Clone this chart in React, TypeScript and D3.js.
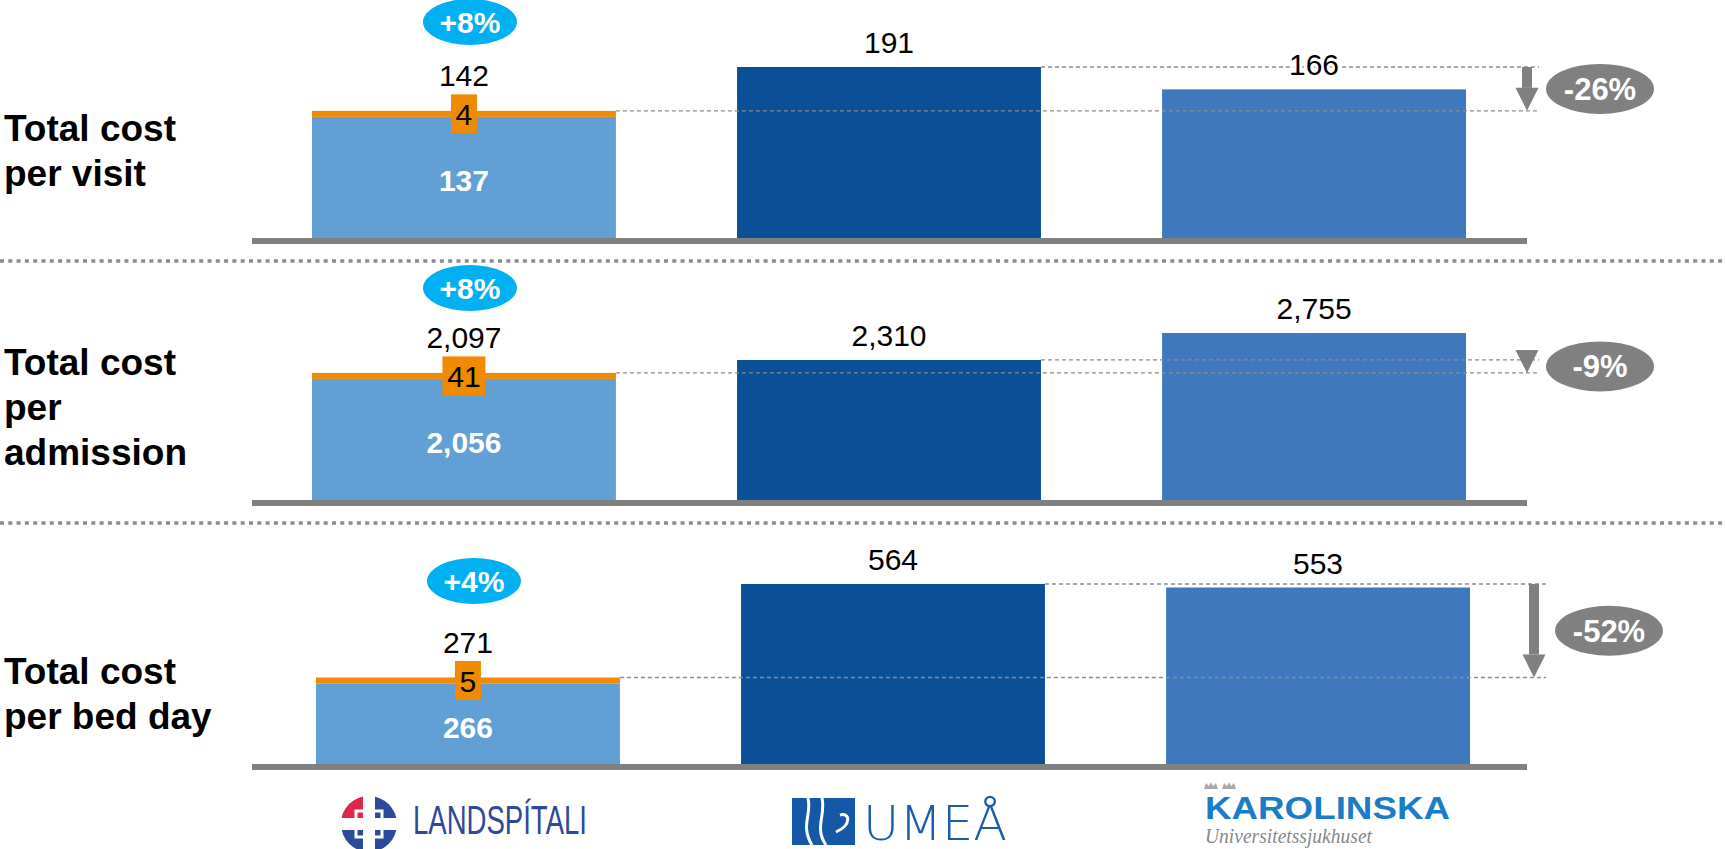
import React from "react";
import * as d3 from "d3";

// chart data
const hospitals = ["Landspítali", "Umeå", "Karolinska"];
const metricLines = [["Total cost", "per visit"], ["Total cost", "per", "admission"], ["Total cost", "per bed day"]];
const landspitaliBase = [137, 2056, 266];
const landspitaliExtra = [4, 41, 5];
const landspitaliTotal = [142, 2097, 271];
const umeaTotal = [191, 2310, 564];
const karolinskaTotal = [166, 2755, 553];
const increaseLabels = ["+8%", "+8%", "+4%"];
const gapLabels = ["-26%", "-9%", "-52%"];

const W = 1725, H = 849;
const FONT = "'Liberation Sans', Arial, sans-serif";
const colors = ["#629fd5", "#0b4f96", "#3f78bd"];
const ORANGE = "#ee8b00";
const GRAY = "#808080";
const CYAN = "#00b0f0";

// layout for each panel
const layout = [
  { base: 238, top: 67, badgeY: 22, arrowX: 1527, pillX: 1600, dx: 0, textY: 141 },
  { base: 500, top: 333, badgeY: 288, arrowX: 1527, pillX: 1600, dx: 0, textY: 375 },
  { base: 764, top: 584, badgeY: 581, arrowX: 1534, pillX: 1609, dx: 4, textY: 684 },
];
const separators = [261, 523];
const fmt = d3.format(",");

function Panel({ i }: { i: number }) {
  const L = layout[i];
  const totals = [landspitaliTotal[i], umeaTotal[i], karolinskaTotal[i]];
  const x = d3.scaleBand().domain(hospitals).range([312 + L.dx, 1466 + L.dx]).paddingInner(0.285);
  const y = d3.scaleLinear().domain([0, d3.max(totals) as number]).range([L.base, L.top]);
  const bw = x.bandwidth();
  const cx = (h: string) => (x(h) as number) + bw / 2;

  const lTop = y(landspitaliTotal[i]);
  const orangeH = Math.max(6, y(0) - y(landspitaliExtra[i]));
  const uTop = y(umeaTotal[i]);
  const lc = cx(hospitals[0]);
  const extraText = String(landspitaliExtra[i]);
  const boxW = extraText.length * 17 + 9;
  const lineEnd = L.arrowX + 12;
  const headH = 23;

  return (
    <g>
      {/* metric label */}
      <text x={4} y={L.textY} fontFamily={FONT} fontWeight="bold" fontSize={37} fill="#000">
        {metricLines[i].map((t, k) => (
          <tspan key={k} x={4} dy={k === 0 ? 0 : 45}>{t}</tspan>
        ))}
      </text>

      {/* bars */}
      <rect x={x(hospitals[0])} y={lTop + orangeH} width={bw} height={y(0) - lTop - orangeH} fill={colors[0]} />
      <rect x={x(hospitals[0])} y={lTop} width={bw} height={orangeH} fill={ORANGE} />
      {hospitals.slice(1).map((h, k) => (
        <rect key={h} x={x(h)} y={y(totals[k + 1])} width={bw} height={y(0) - y(totals[k + 1])} fill={colors[k + 1]} />
      ))}

      {/* baseline */}
      <rect x={252} y={L.base} width={1527 - 252} height={6} fill={GRAY} />

      {/* dashed guide lines */}
      <line x1={(x(hospitals[0]) as number) + bw} x2={lineEnd} y1={lTop} y2={lTop} stroke="#8c8c8c" strokeWidth={1.3} strokeDasharray="4 3" />
      <line x1={(x(hospitals[1]) as number) + bw} x2={lineEnd} y1={uTop} y2={uTop} stroke="#8c8c8c" strokeWidth={1.3} strokeDasharray="4 3" />

      {/* arrow */}
      {lTop - headH > uTop && (
        <rect x={L.arrowX - 5} y={uTop} width={10} height={lTop - headH - uTop} fill={GRAY} />
      )}
      <polygon
        points={`${L.arrowX - 11.5},${lTop - headH} ${L.arrowX + 11.5},${lTop - headH} ${L.arrowX},${lTop}`}
        fill={GRAY}
      />
      <ellipse cx={L.pillX} cy={(lTop + uTop) / 2} rx={54} ry={25} fill={GRAY} />
      <text x={L.pillX} y={(lTop + uTop) / 2 + 11} textAnchor="middle" fontFamily={FONT} fontWeight="bold" fontSize={31} fill="#fff">
        {gapLabels[i]}
      </text>

      {/* orange increment box */}
      <rect x={lc - boxW / 2} y={lTop + 3 - 19.5} width={boxW} height={39} fill={ORANGE} />
      <text x={lc} y={lTop + 14} textAnchor="middle" fontFamily={FONT} fontSize={30} fill="#000">{extraText}</text>

      {/* base value inside */}
      <text x={lc} y={(lTop + orangeH + y(0)) / 2 + 14} textAnchor="middle" fontFamily={FONT} fontWeight="bold" fontSize={30} fill="#fff">
        {fmt(landspitaliBase[i])}
      </text>

      {/* totals */}
      {hospitals.map((h, k) => (
        <text
          key={h}
          x={cx(h)}
          y={y(totals[k]) - (k === 0 ? 25 : 14)}
          textAnchor="middle"
          fontFamily={FONT}
          fontSize={30}
          fill="#000"
          stroke="#fff"
          strokeWidth={6}
          paintOrder="stroke"
        >
          {fmt(totals[k])}
        </text>
      ))}

      {/* increase badge */}
      <ellipse cx={lc + 6} cy={L.badgeY} rx={47} ry={23} fill={CYAN} />
      <text x={lc + 6} y={L.badgeY + 11} textAnchor="middle" fontFamily={FONT} fontWeight="bold" fontSize={30} fill="#fff">
        {increaseLabels[i]}
      </text>
    </g>
  );
}

function Logos() {
  const r = 28;
  const c = { x: 369, y: 824 };
  return (
    <g>
      {/* Landspitali */}
      <circle cx={c.x} cy={c.y} r={r} fill="#2d4a9a" />
      <path d={`M${c.x},${c.y} L${c.x - r},${c.y} A${r},${r} 0 0 1 ${c.x},${c.y - r} Z`} fill="#e2254a" />
      <rect x={c.x - 6} y={c.y - r - 1} width={12} height={2 * r + 2} fill="#fff" />
      <rect x={c.x - r - 1} y={c.y - 6} width={2 * r + 2} height={12} fill="#fff" />
      <rect x={c.x - 13} y={c.y - 13} width={26} height={26} fill="none" stroke="#fff" strokeWidth={3} />
      <text x={413} y={834} fontFamily="'Liberation Sans Narrow', 'Liberation Sans', Arial" fontSize={40}
        fill="#2d4a9a" textLength={174} lengthAdjust="spacingAndGlyphs">LANDSPÍTALI</text>

      {/* Umea */}
      <rect x={792} y={798} width={63} height={47} fill="#1558a8" />
      <path d="M808,798 C812,815 800,825 812,845" stroke="#fff" strokeWidth={3} fill="none" />
      <path d="M822,798 C826,815 814,828 826,845" stroke="#fff" strokeWidth={3} fill="none" />
      <path d="M840,815 C850,812 852,825 836,832" stroke="#fff" strokeWidth={3} fill="none" />
      <text x={863} y={840} fontFamily="'DejaVu Sans', sans-serif" fontWeight={200} fontSize={48}
        fill="#1a5ca8" textLength={144} lengthAdjust="spacingAndGlyphs">UMEÅ</text>

      {/* Karolinska */}
      <path d="M1204,789 l2,-6 l3,3 l2,-4 l2,4 l3,-3 l2,6 Z" fill="#aaa" />
      <path d="M1222,789 l2,-6 l3,3 l2,-4 l2,4 l3,-3 l2,6 Z" fill="#aaa" />
      <text x={1205} y={819} fontFamily={FONT} fontWeight="bold" fontSize={31}
        fill="#1a7cc7" textLength={245} lengthAdjust="spacingAndGlyphs">KAROLINSKA</text>
      <text x={1205} y={843} fontFamily="'Liberation Serif', serif" fontStyle="italic" fontSize={20}
        fill="#888" textLength={167} lengthAdjust="spacingAndGlyphs">Universitetssjukhuset</text>
    </g>
  );
}

export default function App() {
  return (
    <svg width={W} height={H} style={{ position: "absolute", left: 0, top: 0, display: "block", background: "#fff" }}>
      {separators.map((s) => (
        <line key={s} x1={0} x2={W} y1={s} y2={s} stroke="#8c8c8c" strokeWidth={3.5} strokeDasharray="4 4.3" />
      ))}
      {layout.map((_, i) => (
        <Panel key={i} i={i} />
      ))}
      <Logos />
    </svg>
  );
}
